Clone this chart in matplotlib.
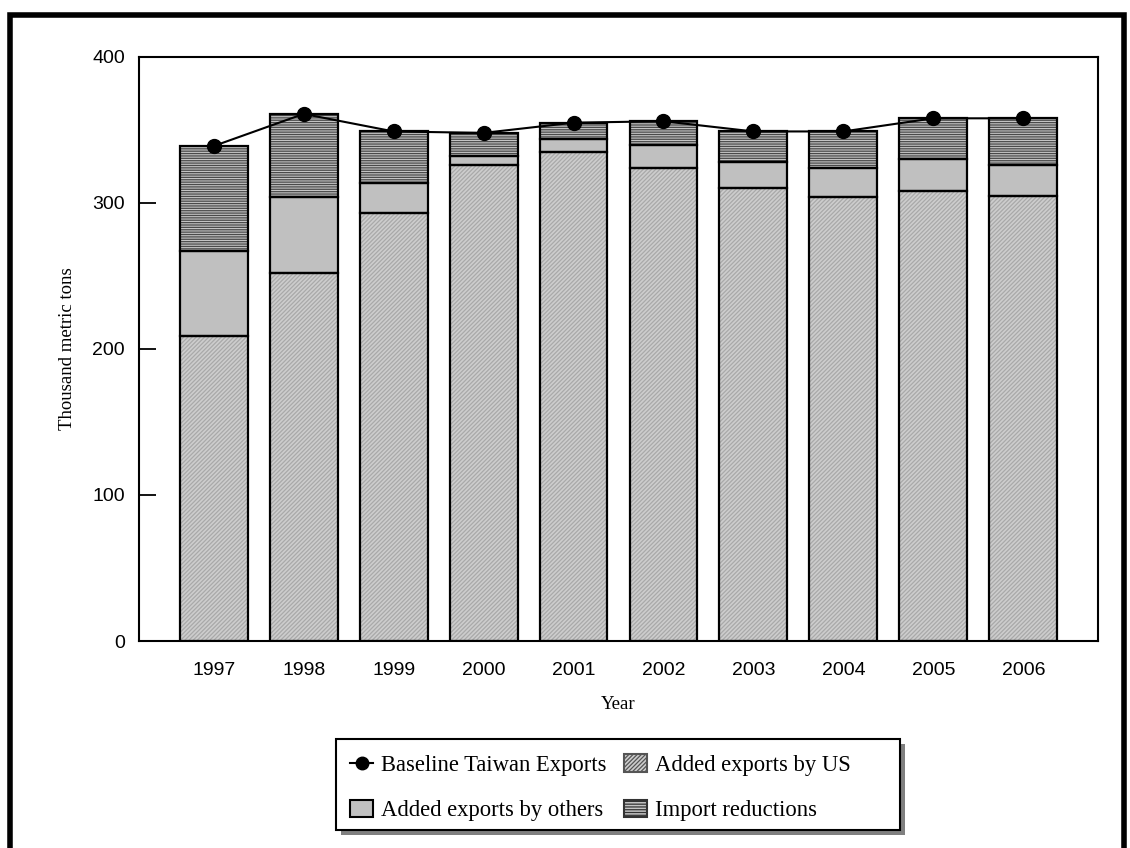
import matplotlib
matplotlib.use("Agg")
import matplotlib.pyplot as plt
from matplotlib.patches import Rectangle
from matplotlib.lines import Line2D
import numpy as np

years = ["1997", "1998", "1999", "2000", "2001", "2002", "2003", "2004", "2005", "2006"]
added_us = [209, 252, 293, 326, 335, 324, 310, 304, 308, 305]
added_others = [58, 52, 21, 6, 9, 16, 18, 20, 22, 21]
import_reductions = [72, 57, 35, 16, 11, 16, 21, 25, 28, 32]
baseline_taiwan = [339, 361, 349, 348, 355, 356, 349, 349, 358, 358]

plt.rcParams["hatch.linewidth"] = 0.9
SERIF = "Liberation Serif"
SANS = "Liberation Sans"
W, H = 1130, 848

fig = plt.figure(figsize=(W / 100, H / 100), dpi=100)
ax = fig.add_axes([0.123, 0.2441, 0.8487, 0.6887])

x = np.arange(len(years))
w = 0.755
us = np.array(added_us)
oth = np.array(added_others)
imp = np.array(import_reductions)

# fills (hatch drawn in edge colour, so outline is added separately)
ax.bar(x, us, w, color="#cdcdcd", edgecolor="#a9a9a9", hatch="////////", lw=0, zorder=2)
ax.bar(x, oth, w, bottom=us, color="#c0c0c0", lw=0, zorder=2)
ax.bar(x, imp, w, bottom=us + oth, color="#c4c4c4", edgecolor="#4a4a4a", hatch="-------", lw=0, zorder=2)
for vals, bot in [(us, 0), (oth, us), (imp, us + oth)]:
    ax.bar(x, vals, w, bottom=bot, fill=False, edgecolor="black", lw=1.6, zorder=3)

ax.plot(x, baseline_taiwan, color="black", lw=1.5, marker="o", ms=10, zorder=4)

ax.set_xlim(-0.83, 9.83)
ax.set_ylim(0, 400)
ax.set_yticks([0, 100, 200, 300, 400])
ax.set_xticks(x)
ax.set_xticklabels(years)
ax.tick_params(axis="x", length=0, pad=15, labelsize=14)
ax.tick_params(axis="y", direction="in", length=12, width=1.3, pad=10, labelsize=14)
for lab in ax.get_xticklabels() + ax.get_yticklabels():
    lab.set_family(SANS)
for sp in ax.spines.values():
    sp.set_linewidth(1.5)

ax.set_ylabel("Thousand metric tons", family=SERIF, fontsize=13.5, labelpad=12)
ax.set_xlabel("Year", family=SERIF, fontsize=13.5, labelpad=12)

handles = [
    Line2D([], [], color="black", lw=1.5, marker="o", ms=9),
    Rectangle((0, 0), 1, 1, facecolor="#c0c0c0", edgecolor="black", lw=1.5),
    Rectangle((0, 0), 1, 1, facecolor="#cdcdcd", edgecolor="#555555", hatch="////////", lw=1.5),
    Rectangle((0, 0), 1, 1, facecolor="#c4c4c4", edgecolor="#333333", hatch="------", lw=1.5),
]
labels = ["Baseline Taiwan Exports", "Added exports by others",
          "Added exports by US", "Import reductions"]
leg = fig.legend(handles, labels, ncol=2, loc="upper left",
                 bbox_to_anchor=(339 / W, 1 - 743 / H),
                 prop={"family": SERIF, "size": 16.3}, frameon=False,
                 handlelength=1.0, handleheight=0.8, handletextpad=0.35,
                 columnspacing=0.8, labelspacing=1.05, borderpad=0)

# legend box with a drop shadow
box = (336 / W, 1 - 830 / H, 564 / W, 91 / H)
fig.patches.append(Rectangle((box[0] + 5 / W, box[1] - 5 / H), box[2], box[3],
                             transform=fig.transFigure, facecolor="#808080",
                             edgecolor="none", zorder=0))
fig.patches.append(Rectangle(box[:2], box[2], box[3], transform=fig.transFigure,
                             facecolor="white", edgecolor="black", lw=1.5, zorder=0.5))

# outer frame around the chart
fig.patches.append(Rectangle((10 / W, -0.2), 1114 / W, 1.2 - 15 / H,
                             transform=fig.transFigure, fill=False,
                             edgecolor="black", lw=4))

fig.savefig("out.png", dpi=100)
